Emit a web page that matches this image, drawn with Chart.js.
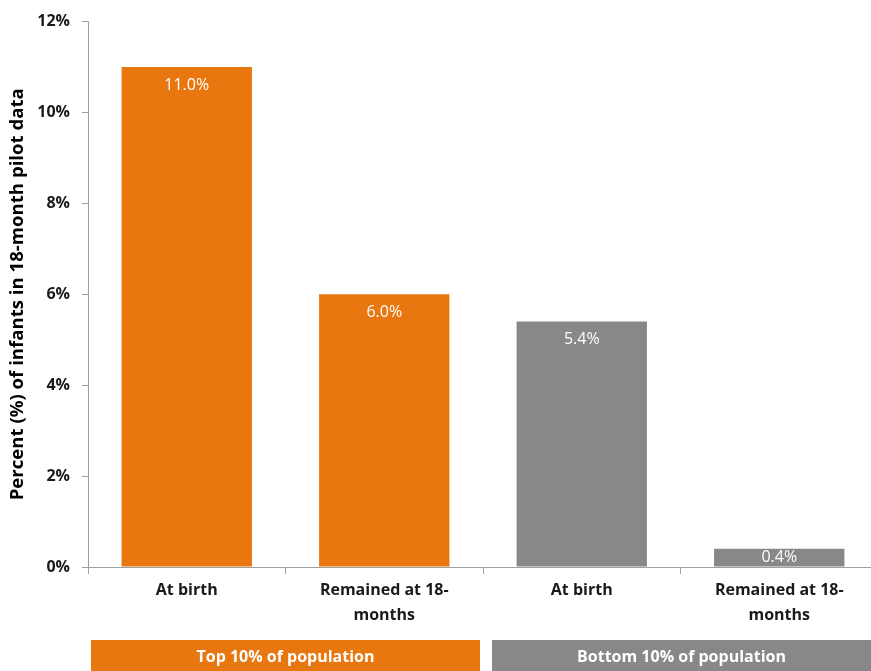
<!DOCTYPE html>
<html>
<head>
<meta charset="utf-8">
<title>Infants in 18-month pilot data</title>
<script src="https://cdn.jsdelivr.net/npm/chart.js@4"></script>
<style>
  html, body { margin: 0; padding: 0; background: #fff; overflow: hidden; }
  canvas { display: block; }
</style>
</head>
<body>
<canvas id="pilotChart" width="880" height="671"></canvas>
<script>
const categories = [['At birth'], ['Remained at 18-', 'months'], ['At birth'], ['Remained at 18-', 'months']];
const percentValues = [11.0, 6.0, 5.4, 0.4];
const barColors = ['#E8770F', '#E8770F', '#888888', '#888888'];
const groupLabels = ['Top 10% of population', 'Bottom 10% of population'];
const groupSizes = [2, 2];
const groupColors = ['#E8770F', '#888888'];
const yTicks = [0, 2, 4, 6, 8, 10, 12];

const axisGrey = '#A0A0A0';
const font = '"Open Sans", Lato, sans-serif';

// white value labels just inside the top of each bar
const valueLabels = {
    id: 'valueLabels',
    afterDatasetsDraw(chart) {
        const ctx = chart.ctx;
        const meta = chart.getDatasetMeta(0);
        ctx.save();
        ctx.fillStyle = '#ffffff';
        ctx.font = '16px ' + font;
        ctx.textAlign = 'center';
        ctx.textBaseline = 'middle';
        meta.data.forEach((bar, i) => {
            const y = Math.min(bar.y + 18, (bar.y + bar.base) / 2);
            ctx.fillText(percentValues[i].toFixed(1) + '%', bar.x, y);
        });
        ctx.restore();
    }
};

// coloured group bands under the category labels
const groupBands = {
    id: 'groupBands',
    afterDraw(chart) {
        const ctx = chart.ctx;
        const x = chart.scales.x;
        const step = (x.right - x.left) / categories.length;
        const insetLeft = [3, 9];
        ctx.save();
        let start = 0;
        groupLabels.forEach((label, g) => {
            const left = x.left + start * step + insetLeft[g];
            const right = x.left + (start + groupSizes[g]) * step - 3;
            ctx.fillStyle = groupColors[g];
            ctx.fillRect(left, 640, right - left, chart.height - 640);
            ctx.fillStyle = '#ffffff';
            ctx.font = 'bold 16px ' + font;
            ctx.textAlign = 'center';
            ctx.textBaseline = 'middle';
            const cx = Math.min((left + right) / 2, g === groupLabels.length - 1 ? (left + 871) / 2 : Infinity);
            ctx.fillText(label, cx, 657);
            start += groupSizes[g];
        });
        ctx.restore();
    }
};

new Chart(document.getElementById('pilotChart'), {
    type: 'bar',
    data: {
        labels: categories,
        datasets: [{
            data: percentValues,
            backgroundColor: barColors,
            borderWidth: 0,
            categoryPercentage: 0.66,
            barPercentage: 1.0
        }]
    },
    options: {
        responsive: false,
        animation: false,
        layout: { padding: { top: 20, right: 2, left: 0, bottom: 0 } },
        plugins: {
            legend: { display: false },
            tooltip: { enabled: false }
        },
        scales: {
            x: {
                offset: true,
                afterFit(scale) { scale.height = 104; },
                grid: {
                    offset: true,
                    drawOnChartArea: false,
                    drawTicks: true,
                    tickLength: 7,
                    color: axisGrey
                },
                border: { display: true, color: axisGrey, width: 1 },
                ticks: {
                    color: '#1a1a1a',
                    padding: 4,
                    maxRotation: 0,
                    autoSkip: false,
                    font: { family: font, size: 16, weight: 'bold', lineHeight: 1.55 }
                }
            },
            y: {
                min: 0,
                max: 12,
                afterFit(scale) { scale.width = 88; },
                afterBuildTicks(scale) { scale.ticks = yTicks.map(v => ({ value: v })); },
                grid: {
                    drawOnChartArea: false,
                    drawTicks: true,
                    tickLength: 6,
                    color: axisGrey
                },
                border: { display: true, color: axisGrey, width: 1 },
                ticks: {
                    color: '#1a1a1a',
                    padding: 12,
                    font: { family: font, size: 16, weight: 'bold' },
                    callback: v => v + '%'
                },
                title: {
                    display: true,
                    text: 'Percent (%) of infants in 18-month pilot data',
                    color: '#000000',
                    padding: { top: 7, bottom: 0 },
                    font: { family: font, size: 18.6, weight: 'bold' }
                }
            }
        }
    },
    plugins: [valueLabels, groupBands]
});
</script>
</body>
</html>
